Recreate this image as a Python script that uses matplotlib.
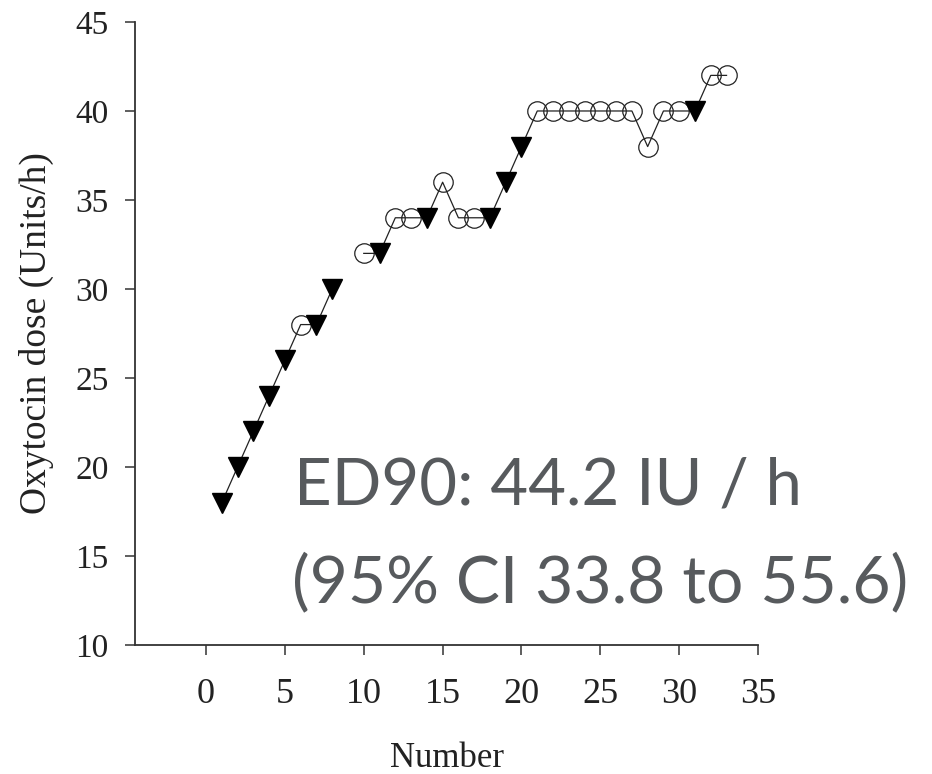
import numpy as np
import matplotlib
matplotlib.use("Agg")
import matplotlib.pyplot as plt

# patient number, oxytocin dose (Units/h); patient 9 not plotted
number = [1, 2, 3, 4, 5, 6, 7, 8, 9, 10, 11, 12, 13, 14, 15, 16, 17,
          18, 19, 20, 21, 22, 23, 24, 25, 26, 27, 28, 29, 30, 31, 32, 33]
dose = [18, 20, 22, 24, 26, 28, 28, 30, np.nan, 32, 32, 34, 34, 34, 36, 34, 34,
        34, 36, 38, 40, 40, 40, 40, 40, 40, 40, 38, 40, 40, 40, 42, 42]
# "T" = filled triangle, "C" = open circle
outcome = ["T", "T", "T", "T", "T", "C", "T", "T", "", "C", "T", "C", "C",
           "T", "C", "C", "C", "T", "T", "T", "C", "C", "C", "C", "C", "C",
           "C", "C", "C", "C", "T", "C", "C"]

x_ticks = [0, 5, 10, 15, 20, 25, 30, 35]
y_ticks = [10, 15, 20, 25, 30, 35, 40, 45]

annot_line1 = "ED90: 44.2 IU / h"
annot_line2 = "(95% CI 33.8 to 55.6)"

serif = "Liberation Serif"

fig = plt.figure(figsize=(9.32, 7.74), dpi=100)
ax = fig.add_axes([0.1449, 0.1667, 0.6685, 0.8049])

ax.plot(number, dose, color="#222222", linewidth=0.9, zorder=1)

num = np.array(number)
dos = np.array(dose, dtype=float)
out = np.array(outcome)
tri = out == "T"
cir = out == "C"
ax.plot(num[tri], dos[tri], linestyle="none", marker="v", markersize=15,
        markerfacecolor="black", markeredgecolor="black", zorder=3)
ax.plot(num[cir], dos[cir], linestyle="none", marker="o", markersize=14,
        markerfacecolor="none", markeredgecolor="#222222",
        markeredgewidth=0.9, zorder=2)

ax.set_xlim(-4.5, 35)
ax.set_ylim(10, 45)
ax.set_xticks(x_ticks)
ax.set_yticks(y_ticks)

for side in ("top", "right"):
    ax.spines[side].set_visible(False)
for side in ("left", "bottom"):
    ax.spines[side].set_color("#333333")
    ax.spines[side].set_linewidth(1.3)

ax.tick_params(axis="x", direction="out", length=7, width=1.1,
               color="#333333", pad=17, labelsize=26, labelcolor="#222222")
ax.tick_params(axis="y", direction="out", length=7, width=1.1,
               color="#333333", pad=12, labelsize=24, labelcolor="#222222")
for lab in ax.get_xticklabels() + ax.get_yticklabels():
    lab.set_fontfamily(serif)

ax.set_xlabel("Number", fontsize=25, family=serif, color="#222222")
ax.set_ylabel("Oxytocin dose (Units/h)", fontsize=27, family=serif,
              color="#222222")
ax.xaxis.set_label_coords(0.5, -0.155)
ax.yaxis.set_label_coords(-0.13, 0.5)

ax.text(5.6, 17.9, annot_line1, fontsize=47, family="Lato",
        color="#575a5d", ha="left", va="baseline", clip_on=False)
ax.text(5.45, 12.4, annot_line2, fontsize=47.5, family="Lato",
        color="#575a5d", ha="left", va="baseline", clip_on=False)

fig.savefig("out.png", dpi=100)
